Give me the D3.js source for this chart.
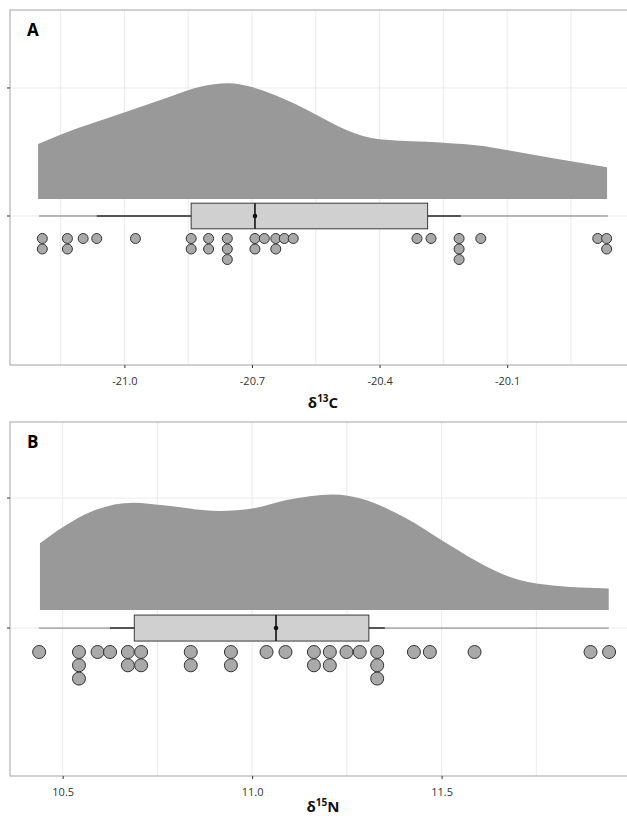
<!DOCTYPE html>
<html>
<head>
<meta charset="utf-8">
<script src="https://cdn.jsdelivr.net/npm/d3@7"></script>
<style>
  body { margin: 0; background: #fff; }
  text { font-family: "Open Sans", "Liberation Sans", sans-serif; }
</style>
</head>
<body>
<svg id="chart"></svg>
<script>
// ---- data ----

// panel A: d13C
const dotsA = [-21.193, -21.193, -21.134, -21.134, -21.097, -21.065, -20.974,
  -20.843, -20.843, -20.802, -20.802, -20.758, -20.758, -20.758,
  -20.693, -20.693, -20.671, -20.644, -20.644, -20.624, -20.603,
  -20.312, -20.279, -20.213, -20.213, -20.213, -20.162, -19.887, -19.866, -19.866];
const densXA = [-21.203, -21.152, -20.999, -20.893, -20.822, -20.756, -20.698, -20.619,
  -20.540, -20.478, -20.400, -20.250, -20.156, -20.101, -19.992, -19.865];
const densYA = [0.562, 0.633, 0.810, 0.932, 1.010, 1.037, 1.005, 0.906,
  0.776, 0.672, 0.599, 0.573, 0.547, 0.516, 0.451, 0.380];
const boxA = {min: -21.201, lo: -21.065, q1: -20.843, med: -20.693, q3: -20.287, hi: -20.209, max: -19.863, mean: -20.693};
const ticksA = [-21.0, -20.7, -20.4, -20.1];
const minorA = [-21.15, -20.85, -20.55, -20.25, -19.95];
const tickLabelsA = ["-21.0", "-20.7", "-20.4", "-20.1"];

// panel B: d15N
const dotsB = [10.438, 10.543, 10.543, 10.543, 10.592, 10.625, 10.672, 10.672,
  10.707, 10.707, 10.838, 10.838, 10.944, 10.944, 11.038, 11.088,
  11.163, 11.163, 11.205, 11.205, 11.249, 11.284, 11.330, 11.330, 11.330,
  11.427, 11.469, 11.587, 11.893, 11.942];
const densXB = [10.440, 10.502, 10.581, 10.686, 10.765, 10.915, 11.003, 11.091,
  11.213, 11.284, 11.399, 11.513, 11.619, 11.706, 11.794, 11.941];
const densYB = [0.652, 0.779, 0.902, 0.964, 0.944, 0.900, 0.921, 0.985,
  1.028, 0.998, 0.856, 0.652, 0.472, 0.369, 0.328, 0.305];
const boxB = {min: 10.437, lo: 10.625, q1: 10.689, med: 11.063, q3: 11.308, hi: 11.350, max: 11.941, mean: 11.063};
const ticksB = [10.5, 11.0, 11.5];
const minorB = [10.75, 11.25, 11.75];
const tickLabelsB = ["10.5", "11.0", "11.5"];

const yTicks = [0, 1];

// ---- layout ----
const width = 627, height = 818;
const svg = d3.select("#chart").attr("width", width).attr("height", height);

function drawPanel(p) {
  const x = d3.scaleLinear().domain(p.xDomain).range([p.left, p.right]);
  const y = d3.scaleLinear().domain(p.yDomain).range([p.bottom, p.top]);
  const g = svg.append("g");

  // panel background + grid
  g.append("rect")
    .attr("x", p.left).attr("y", p.top)
    .attr("width", p.right - p.left).attr("height", p.bottom - p.top)
    .attr("fill", "#fff");

  g.selectAll(".gx").data(p.ticks.concat(p.minor)).join("line")
    .attr("x1", d => x(d)).attr("x2", d => x(d))
    .attr("y1", p.top).attr("y2", p.bottom)
    .attr("stroke", "#ebebeb").attr("stroke-width", 1);

  g.selectAll(".gy").data(yTicks).join("line")
    .attr("x1", p.left).attr("x2", p.right)
    .attr("y1", d => y(d)).attr("y2", d => y(d))
    .attr("stroke", "#ebebeb").attr("stroke-width", 1);

  // density (half violin)
  const dens = p.densX.map((d, i) => ({x: d, y: p.densY[i]}));
  const area = d3.area()
    .x(d => x(d.x))
    .y0(y(p.base))
    .y1(d => y(d.y))
    .curve(d3.curveMonotoneX);
  g.append("path").datum(dens).attr("d", area)
    .attr("fill", "#999999");

  // range line and whiskers
  g.append("line")
    .attr("x1", x(p.box.min)).attr("x2", x(p.box.max))
    .attr("y1", y(0)).attr("y2", y(0))
    .attr("stroke", "#7a7a7a").attr("stroke-width", 1);
  g.append("line")
    .attr("x1", x(p.box.lo)).attr("x2", x(p.box.hi))
    .attr("y1", y(0)).attr("y2", y(0))
    .attr("stroke", "#333").attr("stroke-width", 1.6);

  // box
  g.append("rect")
    .attr("x", x(p.box.q1)).attr("y", y(p.boxHalf))
    .attr("width", x(p.box.q3) - x(p.box.q1))
    .attr("height", y(-p.boxHalf) - y(p.boxHalf))
    .attr("fill", "#d0d0d0").attr("stroke", "#3a3a3a").attr("stroke-width", 1);
  g.append("line")
    .attr("x1", x(p.box.med)).attr("x2", x(p.box.med))
    .attr("y1", y(p.boxHalf)).attr("y2", y(-p.boxHalf))
    .attr("stroke", "#111").attr("stroke-width", 1.6);
  g.append("circle")
    .attr("cx", x(p.box.mean)).attr("cy", y(0)).attr("r", 2.3)
    .attr("fill", "#111");

  // dots, stacked by value
  const counts = {};
  const dots = p.dots.map(v => {
    const k = v.toFixed(3);
    counts[k] = (counts[k] || 0) + 1;
    return {v: v, i: counts[k] - 1};
  });
  g.selectAll(".dot").data(dots).join("circle")
    .attr("cx", d => x(d.v))
    .attr("cy", d => p.dotRow + d.i * p.dotStep)
    .attr("r", p.dotR)
    .attr("fill", "#a9a9a9").attr("stroke", "#333").attr("stroke-width", 1);

  // panel border
  g.append("rect")
    .attr("x", p.left).attr("y", p.top)
    .attr("width", p.right - p.left).attr("height", p.bottom - p.top)
    .attr("fill", "none").attr("stroke", "#b3b3b3").attr("stroke-width", 1.2);

  // y ticks (no labels)
  g.selectAll(".ty").data(yTicks).join("line")
    .attr("x1", p.left - 3).attr("x2", p.left)
    .attr("y1", d => y(d)).attr("y2", d => y(d))
    .attr("stroke", "#333");

  // x axis
  const axis = g.append("g")
    .attr("transform", `translate(0,${p.bottom})`)
    .call(d3.axisBottom(x).tickValues(p.ticks).tickSize(3)
      .tickFormat((d, i) => p.labels[i]));
  axis.select(".domain").remove();
  axis.selectAll(".tick line").attr("stroke", "#333");
  axis.selectAll(".tick text")
    .attr("fill", "#333").attr("font-size", 11)
    .attr("font-family", "'Open Sans', sans-serif").attr("dy", "1.25em");

  // axis title with superscript
  const t = g.append("text")
    .attr("x", (p.left + p.right) / 2).attr("y", p.titleY)
    .attr("text-anchor", "middle")
    .attr("font-size", 15).attr("font-weight", "bold").attr("fill", "#111");
  t.append("tspan").text("δ");
  t.append("tspan").text(p.sup).attr("font-size", 10).attr("dy", -6);
  t.append("tspan").text(p.elem).attr("dy", 6);

  // panel letter
  g.append("text")
    .attr("x", p.left + 17).attr("y", p.top + 26)
    .attr("font-size", 17).attr("font-weight", "bold").attr("fill", "#000")
    .text(p.letter);
}

drawPanel({
  letter: "A", sup: "13", elem: "C",
  left: 10, right: 636, top: 10, bottom: 365,
  xDomain: [-21.269, -19.797], yDomain: [-1.164, 1.609],
  ticks: ticksA, minor: minorA, labels: tickLabelsA,
  densX: densXA, densY: densYA, base: 0.133, boxHalf: 0.1,
  box: boxA, dots: dotsA, dotRow: 238.5, dotStep: 10.5, dotR: 5,
  titleY: 408
});

drawPanel({
  letter: "B", sup: "15", elem: "N",
  left: 10, right: 636, top: 422, bottom: 776,
  xDomain: [10.361, 12.013], yDomain: [-1.138, 1.585],
  ticks: ticksB, minor: minorB, labels: tickLabelsB,
  densX: densXB, densY: densYB, base: 0.138, boxHalf: 0.1,
  box: boxB, dots: dotsB, dotRow: 652, dotStep: 13.3, dotR: 6.5,
  titleY: 812
});
</script>
</body>
</html>
